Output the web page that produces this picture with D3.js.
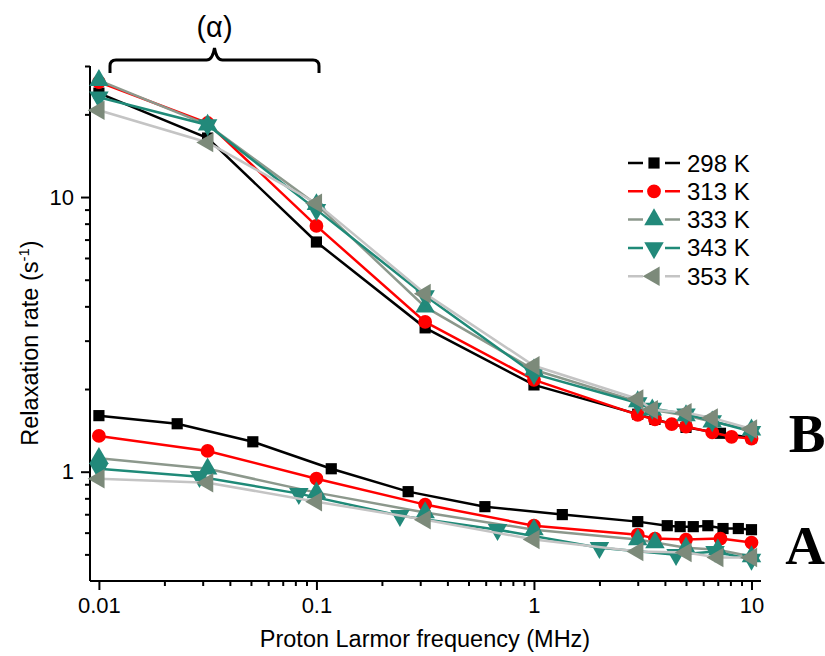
<!DOCTYPE html>
<html>
<head>
<meta charset="utf-8">
<script src="https://cdn.jsdelivr.net/npm/d3@7"></script>
<style>
body { margin: 0; background: #fff; }
text { font-family: "Liberation Sans", Arial, sans-serif; }
</style>
</head>
<body>
<div id="viz"></div>
<script>
// temperatures (legend)
var labels = ["298 K", "313 K", "333 K", "343 K", "353 K"];

// curve B (upper)
var fB298 = [0.01, 0.0316, 0.1, 0.316, 1, 3, 3.6, 5, 7.2, 10];
var vB298 = [23.9, 16.4, 6.86, 3.34, 2.07, 1.62, 1.55, 1.45, 1.38, 1.33];
var fB313 = [0.01, 0.0316, 0.1, 0.316, 1, 3, 3.6, 4.3, 5, 6.6, 8.1, 10];
var vB313 = [26.2, 18.6, 7.85, 3.51, 2.16, 1.61, 1.55, 1.49, 1.46, 1.39, 1.34, 1.32];
var fB333 = [0.01, 0.0316, 0.1, 0.316, 1, 3, 3.5, 5, 6.6, 10];
var vB333 = [26.6, 18.3, 9.4, 3.98, 2.35, 1.80, 1.68, 1.60, 1.52, 1.42];
var fB343 = [0.01, 0.0316, 0.1, 0.316, 1, 3, 3.5, 5, 6.6, 10];
var vB343 = [23.1, 18.3, 9.0, 4.37, 2.27, 1.78, 1.70, 1.62, 1.53, 1.40];
var fB353 = [0.01, 0.0316, 0.1, 0.316, 1, 3, 3.5, 5, 6.6, 10];
var vB353 = [20.7, 15.8, 9.5, 4.45, 2.43, 1.84, 1.68, 1.64, 1.57, 1.43];

// curve A (lower)
var fA298 = [0.01, 0.0229, 0.051, 0.117, 0.264, 0.595, 1.35, 3, 4.1, 4.7, 5.4, 6.3, 7.4, 8.7, 10];
var vA298 = [1.60, 1.495, 1.285, 1.025, 0.846, 0.746, 0.698, 0.658, 0.636, 0.631, 0.631, 0.636, 0.621, 0.621, 0.615];
var fA313 = [0.01, 0.0316, 0.1, 0.316, 1, 3, 3.6, 5, 7.2, 10];
var vA313 = [1.35, 1.19, 0.943, 0.759, 0.636, 0.59, 0.571, 0.566, 0.571, 0.552];
var fA333 = [0.01, 0.0316, 0.1, 0.316, 1, 3, 3.6, 5, 7, 10];
var vA333 = [1.12, 1.025, 0.839, 0.71, 0.615, 0.566, 0.552, 0.529, 0.52, 0.491];
var fA343 = [0.01, 0.029, 0.083, 0.242, 0.68, 2.0, 4.5, 6.8, 10];
var vA343 = [1.025, 0.959, 0.832, 0.692, 0.615, 0.529, 0.499, 0.512, 0.479];
var fA353 = [0.01, 0.0316, 0.1, 0.316, 1, 3, 5, 7, 10];
var vA353 = [0.943, 0.912, 0.778, 0.669, 0.566, 0.512, 0.508, 0.487, 0.487];

var xTicks = [0.01, 0.1, 1, 10];
var yTicks = [1, 10];

var lineColors = ["#000000", "#ff0000", "#8c988c", "#1f8a78", "#c4c4c4"];
var markColors = ["#000000", "#ff0000", "#22897a", "#22897a", "#7c8a7a"];
var shapes = [d3.symbolSquare, d3.symbolCircle, d3.symbolTriangle, d3.symbolTriangle, d3.symbolTriangle];
var rotations = [0, 0, 0, 180, -90];
var sizes = [125, 150, 165, 165, 165];

var series = [
	[[fB298, vB298], [fA298, vA298]],
	[[fB313, vB313], [fA313, vA313]],
	[[fB333, vB333], [fA333, vA333]],
	[[fB343, vB343], [fA343, vA343]],
	[[fB353, vB353], [fA353, vA353]]
];

var svg = d3.select("#viz")
	.append("svg")
	.attr("width", 825)
	.attr("height", 656);

var x = d3.scaleLog().domain([0.0091, 11.06]).range([90, 761]);
var y = d3.scaleLog().domain([0.4, 30]).range([581, 66]);

// minor ticks
var xMinor = [];
[0.01, 0.1, 1].forEach(function(d){
	for (var k = 2; k <= 9; k++) xMinor.push(d*k);
});
var yMinor = [0.5, 0.6, 0.7, 0.8, 0.9, 2, 3, 4, 5, 6, 7, 8, 9, 20, 30];

var xAxis = svg.append("g").attr("transform", "translate(0,581)");
xAxis.call(d3.axisBottom(x).tickValues(xMinor).tickSize(5).tickFormat(""));
xAxis.append("g").call(d3.axisBottom(x).tickValues(xTicks).tickSize(9).tickPadding(7)
	.tickFormat(function(d){ return d3.format("~g")(d); }));
xAxis.selectAll("path.domain").attr("stroke-width", 2).attr("d", "M90,0H761");
xAxis.selectAll("line").attr("stroke-width", 2);
xAxis.selectAll("text").attr("font-size", 22).attr("fill", "#000")
	.style("font-family", "Liberation Sans, Arial, sans-serif");

var yAxis = svg.append("g").attr("transform", "translate(90,0)");
yAxis.call(d3.axisLeft(y).tickValues(yMinor).tickSize(5).tickFormat(""));
yAxis.append("g").call(d3.axisLeft(y).tickValues(yTicks).tickSize(9).tickPadding(7)
	.tickFormat(function(d){ return d3.format("~g")(d); }));
yAxis.selectAll("path.domain").attr("stroke-width", 2).attr("d", "M0,66V581");
yAxis.selectAll("line").attr("stroke-width", 2);
yAxis.selectAll("text").attr("font-size", 22).attr("fill", "#000")
	.style("font-family", "Liberation Sans, Arial, sans-serif");

// axis titles
svg.append("text")
	.attr("x", 425).attr("y", 647)
	.attr("text-anchor", "middle")
	.attr("font-size", 23.5)
	.text("Proton Larmor frequency (MHz)");

var yt = svg.append("text")
	.attr("transform", "translate(38,343) rotate(-90)")
	.attr("text-anchor", "middle")
	.attr("font-size", 23.5);
yt.append("tspan").text("Relaxation rate (s");
yt.append("tspan").attr("dy", -9).attr("font-size", 15).text("-1");
yt.append("tspan").attr("dy", 9).text(")");

// curves
var line = d3.line()
	.x(function(d){ return x(d[0]); })
	.y(function(d){ return y(d[1]); });

series.forEach(function(s, i){
	var g = svg.append("g");
	s.forEach(function(curve){
		var pts = curve[0].map(function(f, j){ return [f, curve[1][j]]; });
		g.append("path")
			.attr("d", line(pts))
			.attr("fill", "none")
			.attr("stroke", lineColors[i])
			.attr("stroke-width", 2.5);
		g.selectAll(null)
			.data(pts)
			.enter()
			.append("path")
			.attr("d", d3.symbol().type(shapes[i]).size(sizes[i]))
			.attr("transform", function(d){
				return "translate(" + x(d[0]) + "," + y(d[1]) + ") rotate(" + rotations[i] + ")";
			})
			.attr("fill", markColors[i]);
	});
});

// legend
var legend = svg.append("g");
labels.forEach(function(lab, i){
	var ly = 163 + i*28.3;
	legend.append("line")
		.attr("x1", 628).attr("x2", 680)
		.attr("y1", ly).attr("y2", ly)
		.attr("stroke", lineColors[i])
		.attr("stroke-width", 2.5);
	legend.append("rect")
		.attr("x", 643).attr("y", ly - 9).attr("width", 22).attr("height", 18)
		.attr("fill", "#fff");
	legend.append("path")
		.attr("d", d3.symbol().type(shapes[i]).size(sizes[i]))
		.attr("transform", "translate(654," + ly + ") rotate(" + rotations[i] + ")")
		.attr("fill", markColors[i]);
	legend.append("text")
		.attr("x", 687).attr("y", ly + 8.5)
		.attr("font-size", 24)
		.text(lab);
});

// bracket and (alpha)
var bx1 = 110, bx2 = 319, bm = (bx1 + bx2)/2;
svg.append("path")
	.attr("d", "M" + bx1 + ",73 L" + bx1 + ",66 Q" + bx1 + ",60 " + (bx1+6) + ",60 L" + (bm-8) + ",60 Q" + (bm-2) + ",60 " + bm + ",48 Q" + (bm+2) + ",60 " + (bm+8) + ",60 L" + (bx2-6) + ",60 Q" + bx2 + ",60 " + bx2 + ",66 L" + bx2 + ",73")
	.attr("fill", "none")
	.attr("stroke", "#000")
	.attr("stroke-width", 3);
svg.append("text")
	.attr("x", bm).attr("y", 37)
	.attr("text-anchor", "middle")
	.attr("font-size", 29)
	.text("(\u03b1)");

// curve labels
svg.append("text")
	.attr("x", 807).attr("y", 452)
	.attr("text-anchor", "middle")
	.attr("font-size", 55)
	.attr("font-weight", "bold")
	.style("font-family", "Liberation Serif, Times New Roman, serif")
	.text("B");
svg.append("text")
	.attr("x", 805).attr("y", 564)
	.attr("text-anchor", "middle")
	.attr("font-size", 55)
	.attr("font-weight", "bold")
	.style("font-family", "Liberation Serif, Times New Roman, serif")
	.text("A");
</script>
</body>
</html>
